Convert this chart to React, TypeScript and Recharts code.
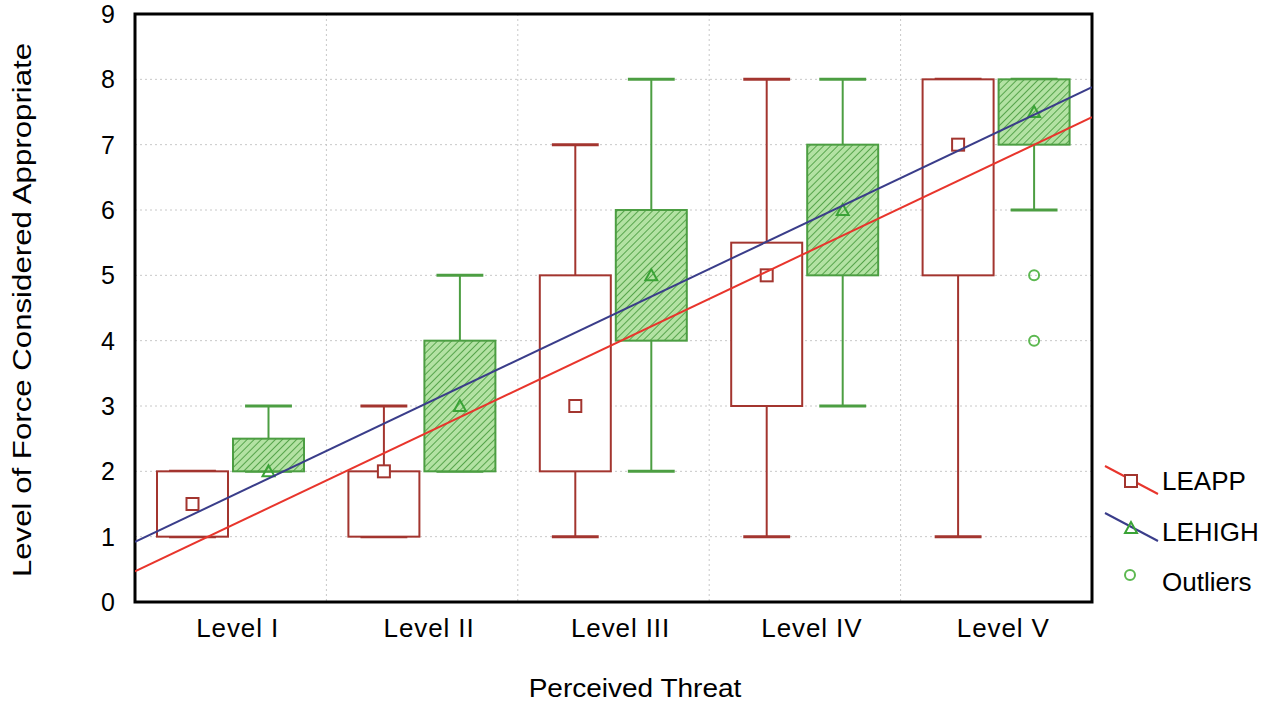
import { ComposedChart, Bar, Line, XAxis, YAxis, CartesianGrid, ReferenceArea } from 'recharts';

// box plot stats
const categories = ['Level I', 'Level II', 'Level III', 'Level IV', 'Level V'];
const leappMin = [1, 1, 1, 1, 1];
const leappQ1 = [1, 1, 2, 3, 5];
const leappQ3 = [2, 2, 5, 5.5, 8];
const leappMax = [2, 3, 7, 8, 8];
const leappMean = [1.5, 2, 3, 5, 7];
const lehighMin = [2, 2, 2, 3, 6];
const lehighQ1 = [2, 2, 4, 5, 7];
const lehighQ3 = [2.5, 4, 6, 7, 8];
const lehighMax = [3, 5, 8, 8, 8];
const lehighMean = [2, 3, 5, 6, 7.5];
const lehighOutliers = [[], [], [], [], [5, 4]];

// fitted lines, value at left and right edge of the plot
const fitX = [0, 5];
const leappFit = [0.47, 7.42];
const lehighFit = [0.92, 7.88];

const yTicks = [0, 1, 2, 3, 4, 5, 6, 7, 8, 9];

const FONT = '"Liberation Sans", Arial, sans-serif';
const RED_BOX = '#a3352f';
const RED_LINE = '#e8352c';
const BLUE_LINE = '#3a3d8a';
const GREEN = '#4c9e42';

const rows = categories.map((name, i) => ({
  name,
  leapp: [leappQ1[i], leappQ3[i]],
  leappStats: { min: leappMin[i], q1: leappQ1[i], q3: leappQ3[i], max: leappMax[i], mean: leappMean[i], outliers: [] as number[] },
  lehigh: [lehighQ1[i], lehighQ3[i]],
  lehighStats: { min: lehighMin[i], q1: lehighQ1[i], q3: lehighQ3[i], max: lehighMax[i], mean: lehighMean[i], outliers: lehighOutliers[i] },
}));

const fitRows = fitX.map((x, i) => ({ x, leappFit: leappFit[i], lehighFit: lehighFit[i] }));

function makeBoxShape(key: 'leappStats' | 'lehighStats', hatched: boolean) {
  return (props: any) => {
    const { x, y, width, height, payload, index } = props;
    const s = payload[key];
    const top = Math.min(y, y + height);
    const h = Math.abs(height);
    const k = h / (s.q3 - s.q1); // px per unit
    const py = (v: number) => top + (s.q3 - v) * k;
    const cx = x + width / 2;
    const cap = width * 0.33;
    const color = hatched ? GREEN : RED_BOX;
    const my = py(s.mean);
    const pid = `hatch-${key}-${index}`;
    return (
      <g>
        {hatched && (
          <defs>
            <pattern id={pid} patternUnits="userSpaceOnUse" width={5} height={5} patternTransform="rotate(45)">
              <rect width={5} height={5} fill="#b3e2a3" />
              <line x1={0} y1={0} x2={0} y2={5} stroke="#3f9636" strokeWidth={1.6} />
            </pattern>
          </defs>
        )}
        <line x1={cx} y1={py(s.max)} x2={cx} y2={top} stroke={color} strokeWidth={2} />
        <line x1={cx} y1={top + h} x2={cx} y2={py(s.min)} stroke={color} strokeWidth={2} />
        <line x1={cx - cap} y1={py(s.max)} x2={cx + cap} y2={py(s.max)} stroke={color} strokeWidth={3} />
        <line x1={cx - cap} y1={py(s.min)} x2={cx + cap} y2={py(s.min)} stroke={color} strokeWidth={3} />
        <rect x={x} y={top} width={width} height={h} fill={hatched ? `url(#${pid})` : '#fff'} stroke={color} strokeWidth={2} />
        {hatched ? (
          <polygon points={`${cx},${my - 6} ${cx - 6},${my + 5} ${cx + 6},${my + 5}`} fill="none" stroke="#3aa336" strokeWidth={2} />
        ) : (
          <rect x={cx - 6} y={my - 6} width={12} height={12} fill="#fff" stroke={RED_BOX} strokeWidth={2} />
        )}
        {s.outliers.map((o: number) => (
          <circle key={o} cx={cx} cy={py(o)} r={5} fill="none" stroke="#5cb850" strokeWidth={2} />
        ))}
      </g>
    );
  };
}

const legendItems = ['LEAPP', 'LEHIGH', 'Outliers'];

export default function App() {
  return (
    <div style={{ position: 'absolute', left: 0, top: 0, width: 1269, height: 704, background: '#fff', fontFamily: FONT }}>
      <ComposedChart width={1269} height={704} data={rows} margin={{ top: 14, right: 177, bottom: 62, left: 75 }} barCategoryGap={22} barGap={5}>
        <CartesianGrid xAxisId="num" stroke="#c8c8c8" strokeDasharray="2 3" />
        <XAxis xAxisId="cat" dataKey="name" type="category" height={40} axisLine={false} tickLine={false} tickMargin={11} dx={7}
          tick={{ fontSize: 26, fill: '#000', fontFamily: FONT, letterSpacing: 0.9 }} />
        <XAxis xAxisId="num" dataKey="x" type="number" domain={[0, 5]} ticks={[0, 1, 2, 3, 4, 5]} hide allowDataOverflow />
        <YAxis domain={[0, 9]} ticks={yTicks} width={60} axisLine={false} tickLine={false} tickMargin={14}
          tick={{ fontSize: 25, fill: '#000', fontFamily: FONT }} />
        <Bar xAxisId="cat" dataKey="leapp" isAnimationActive={false} shape={makeBoxShape('leappStats', false)} />
        <Bar xAxisId="cat" dataKey="lehigh" isAnimationActive={false} shape={makeBoxShape('lehighStats', true)} />
        <Line xAxisId="num" data={fitRows} dataKey="leappFit" type="linear" stroke={RED_LINE} strokeWidth={2} dot={false} isAnimationActive={false} />
        <Line xAxisId="num" data={fitRows} dataKey="lehighFit" type="linear" stroke={BLUE_LINE} strokeWidth={2} dot={false} isAnimationActive={false} />
        <ReferenceArea xAxisId="num" x1={0} x2={5} y1={0} y2={9} fill="none" stroke="#000" strokeWidth={3} ifOverflow="visible" />
      </ComposedChart>

      <div style={{ position: 'absolute', left: 22, top: 310, transform: 'translate(-50%, -50%) rotate(-90deg) scaleX(1.2)', whiteSpace: 'nowrap', fontSize: 26, color: '#000' }}>
        Level of Force Considered Appropriate
      </div>
      <div style={{ position: 'absolute', left: 635, top: 688, transform: 'translate(-50%, -50%) scaleX(1.12)', whiteSpace: 'nowrap', fontSize: 25, color: '#000' }}>
        Perceived Threat
      </div>

      <svg style={{ position: 'absolute', left: 1100, top: 455 }} width={169} height={145}>
        <line x1={5} y1={11} x2={58} y2={39} stroke={RED_LINE} strokeWidth={2} />
        <rect x={25} y={20} width={12} height={12} fill="#fff" stroke={RED_BOX} strokeWidth={2} />
        <line x1={5} y1={58} x2={58} y2={86} stroke={BLUE_LINE} strokeWidth={2} />
        <polygon points="31,67 25,78 37,78" fill="none" stroke="#3aa336" strokeWidth={2} />
        <circle cx={30} cy={120} r={5} fill="none" stroke="#5cb850" strokeWidth={2} />
        {legendItems.map((t, i) => (
          <text key={t} x={62} y={35 + i * 50.5} fontSize={26} fontFamily={FONT} fill="#000">{t}</text>
        ))}
      </svg>
    </div>
  );
}
